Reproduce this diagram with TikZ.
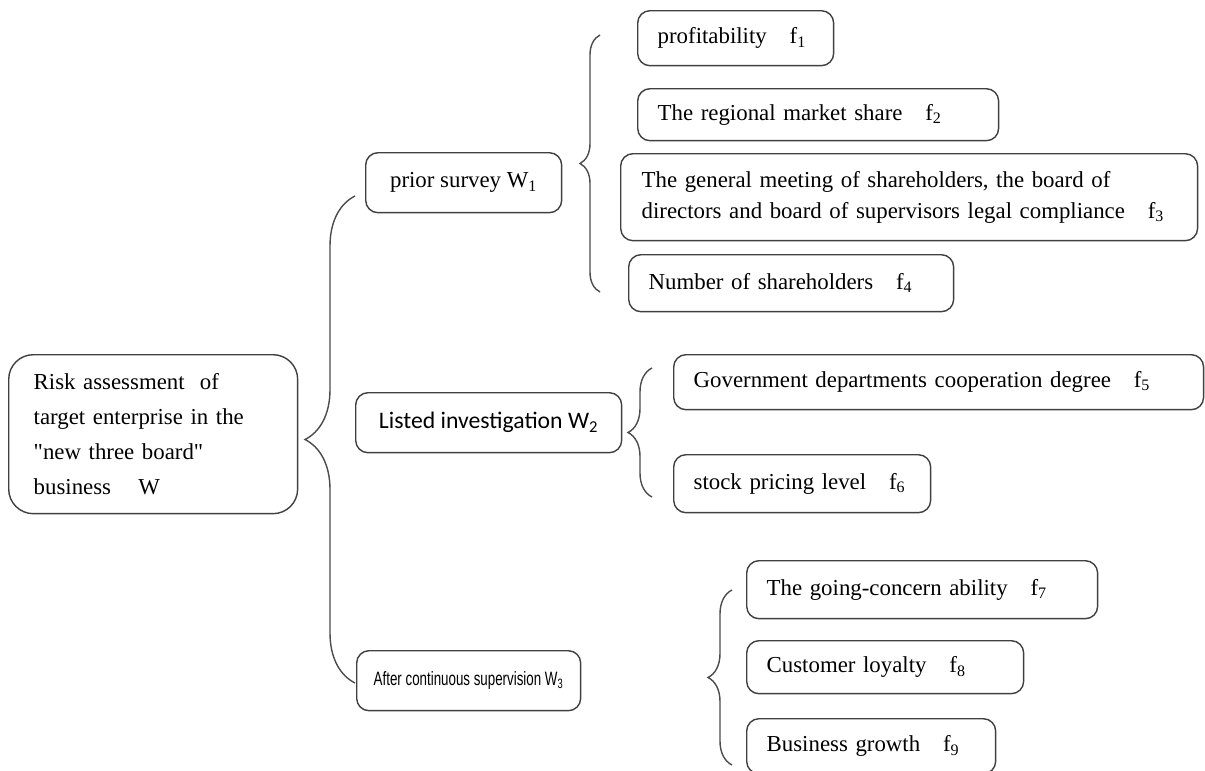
\documentclass[tikz,border=0pt]{standalone}
\usepackage{fontspec}
\setmainfont{Liberation Serif}[Ligatures=TeXOff]
\newfontfamily\calfont{Carlito}
\newfontfamily\arialfont{Liberation Sans}[FakeStretch=0.69]
\usetikzlibrary{decorations.pathreplacing}

\begin{document}
\begin{tikzpicture}[x=0.02cm,y=-0.02cm,
    box/.style={draw=black!75,line width=0.8pt,rounded corners=7pt,anchor=north west,align=left,inner xsep=0.4cm,font=\fontsize{13}{17.6}\selectfont},
    wbox/.style={draw=black!75,line width=0.8pt,rounded corners=7pt,anchor=north west,align=center},
    brc/.style={draw=black!70,line width=0.8pt,decorate,decoration={brace,amplitude=#1}}]
    \useasboundingbox (0,0) rectangle (1205,771);

    % root
    \node[box,rounded corners=14pt,inner xsep=0.5cm,text width=4.78cm,minimum height=3.18cm,font=\fontsize{13}{19.9}\selectfont] (W) at (8,354)
        {Risk assessment\ \ of\\target enterprise in the\\"new three board"\\business\hspace{1.2em}W};

    % second level
    \node[wbox,minimum width=3.92cm,minimum height=1.2cm,font=\fontsize{13}{15}\selectfont] (W1) at (365,152) {prior survey W\textsubscript{1}};
    \node[wbox,minimum width=5.32cm,minimum height=1.2cm,font=\calfont\fontsize{13.5}{15}\selectfont] (W2) at (355,392) {Listed investigation W\textsubscript{2}};
    \node[wbox,minimum width=4.48cm,minimum height=1.2cm,font=\arialfont\fontsize{11}{13}\selectfont] (W3) at (356,650) {After continuous supervision W\textsubscript{3}};

    % factors
    \node[box,text width=3.12cm,minimum height=1.1cm] (f1) at (637,10) {profitability\hspace{1em}f\textsubscript{1}};
    \node[box,text width=6.42cm,minimum height=1.04cm] (f2) at (637,88) {The regional market share\hspace{1em}f\textsubscript{2}};
    \node[box,inner xsep=0.42cm,text width=10.7cm,minimum height=1.74cm] (f3) at (620,153)
        {The general meeting of shareholders, the board of\\directors and board of supervisors legal compliance\hspace{1em}f\textsubscript{3}};
    \node[box,text width=5.7cm,minimum height=1.14cm] (f4) at (628,254) {Number of shareholders\hspace{1em}f\textsubscript{4}};
    \node[box,text width=9.8cm,minimum height=1.1cm] (f5) at (673,354) {Government departments cooperation degree\hspace{1em}f\textsubscript{5}};
    \node[box,text width=4.34cm,minimum height=1.16cm] (f6) at (673,454) {stock pricing level\hspace{1em}f\textsubscript{6}};
    \node[box,text width=6.22cm,minimum height=1.16cm] (f7) at (746,560) {The going-concern ability\hspace{1em}f\textsubscript{7}};
    \node[box,text width=4.74cm,minimum height=1.06cm] (f8) at (746,640) {Customer loyalty\hspace{1em}f\textsubscript{8}};
    \node[box,text width=4.18cm,minimum height=1.1cm] (f9) at (746,718) {Business growth\hspace{1em}f\textsubscript{9}};

    % brace ends
    \coordinate (b0a) at (355,683);
    \coordinate (b0b) at (355,196);
    \coordinate (b1a) at (600,292);
    \coordinate (b1b) at (600,35);
    \coordinate (b2a) at (652,497);
    \coordinate (b2b) at (652,368);
    \coordinate (b3a) at (732,765);
    \coordinate (b3b) at (732,590);

    \draw[brc=1cm] (b0a) -- (b0b);
    \draw[brc=0.4cm] (b1a) -- (b1b);
    \draw[brc=0.48cm] (b2a) -- (b2b);
    \draw[brc=0.48cm] (b3a) -- (b3b);
\end{tikzpicture}
\end{document}
